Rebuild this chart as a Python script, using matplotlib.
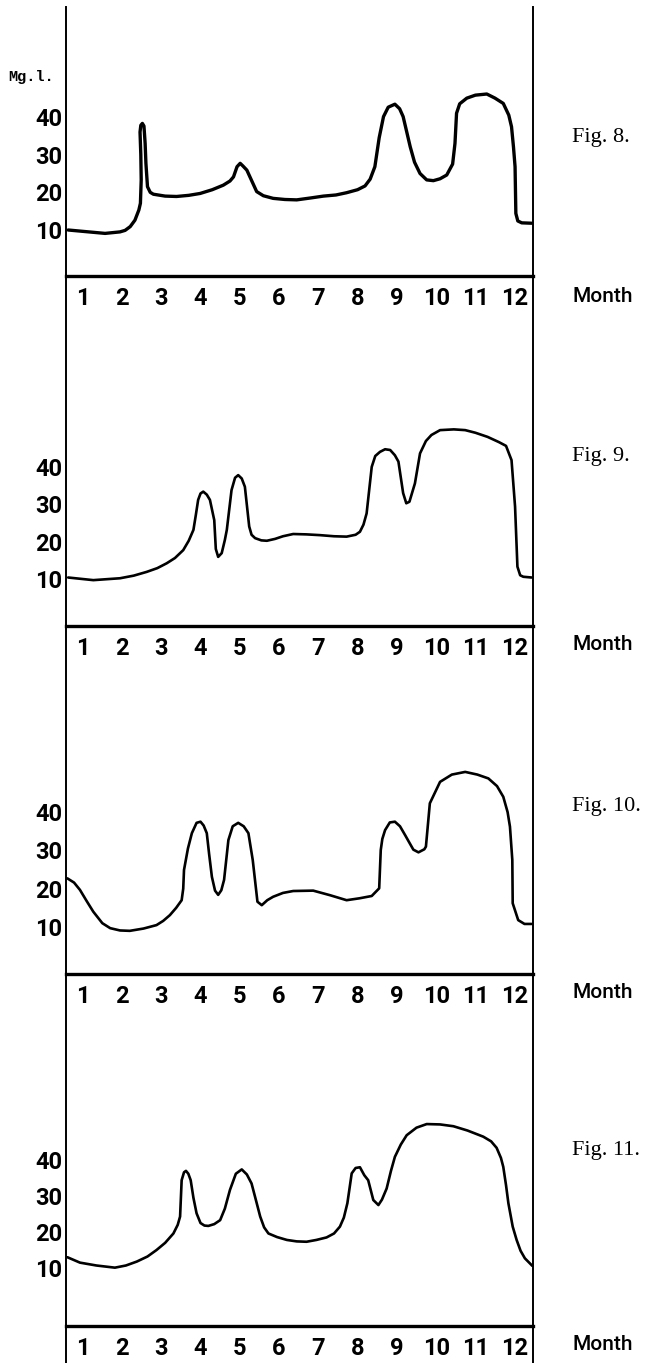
import matplotlib
matplotlib.use("Agg")
import matplotlib.pyplot as plt

# month ticks and concentration ticks (Mg.l.)
months = list(range(1, 13))
conc_ticks = [10, 20, 30, 40]

# Fig. 8
fig8_month = [0.63, 1.10, 1.57, 1.95, 2.08, 2.21, 2.33, 2.43, 2.47, 2.49, 2.48, 2.46, 2.48, 2.52, 2.56, 2.59,
              2.61, 2.65, 2.72, 2.80, 3.10, 3.39, 3.70, 3.99, 4.30, 4.58, 4.75, 4.84, 4.93, 5.01, 5.08, 5.18,
              5.43, 5.60, 5.85, 6.15, 6.45, 6.80, 7.13, 7.45, 7.72, 8.00, 8.19, 8.32, 8.44, 8.55, 8.66,
              8.78, 8.95, 9.07, 9.16, 9.34, 9.45, 9.59, 9.76, 9.93, 10.10, 10.27, 10.42, 10.48, 10.52,
              10.60, 10.78, 11.00, 11.29, 11.50, 11.71, 11.85, 11.92, 11.97, 12.01, 12.03, 12.08, 12.18,
              12.43]
fig8_mgl = [10.0, 9.55, 9.1, 9.5, 9.9, 10.9, 12.6, 15.3, 17.1, 23.3, 30.0, 36.0, 37.8, 38.3, 37.6, 33.0,
            27.7, 21.5, 20.0, 19.5, 19.0, 18.9, 19.2, 19.7, 20.7, 21.9, 23.0, 24.1, 26.8, 27.7, 27.0, 25.9,
            20.2, 19.1, 18.4, 18.1, 18.0, 18.5, 19.0, 19.3, 19.9, 20.7, 21.7, 23.5, 26.8, 34.5, 40.1,
            42.6, 43.4, 42.2, 40.1, 32.1, 28.0, 25.0, 23.3, 23.1, 23.6, 24.6, 27.5, 33.0, 41.0,
            43.5, 45.0, 45.8, 46.1, 45.0, 43.6, 40.5, 37.4, 32.0, 26.8, 14.4, 12.4, 11.9,
            11.8]

# Fig. 9
fig9_month = [0.63, 1.27, 1.95, 2.30, 2.63, 2.90, 3.14, 3.35, 3.56, 3.70, 3.82, 3.88, 3.94, 4.00, 4.07, 4.16,
              4.24, 4.35, 4.39, 4.45, 4.54, 4.62, 4.67, 4.79, 4.88, 4.96, 5.05, 5.13, 5.24, 5.30, 5.39,
              5.55, 5.69, 5.90, 6.10, 6.36, 6.70, 7.04, 7.40, 7.72, 7.95, 8.06, 8.15, 8.23, 8.36, 8.45,
              8.57, 8.70, 8.83, 8.95, 9.04, 9.16, 9.24, 9.32, 9.46, 9.59, 9.74, 9.88, 10.10, 10.45, 10.74,
              11.00, 11.31, 11.60, 11.78, 11.92, 12.01, 12.07, 12.14, 12.22, 12.43]
fig9_mgl = [10.4, 9.7, 10.2, 10.9, 11.9, 12.9, 14.2, 15.6, 17.7, 20.2, 23.1, 27.0, 31.1, 32.8, 33.3, 32.5,
            31.1, 25.7, 18.0, 15.9, 16.9, 20.4, 23.1, 33.7, 37.0, 37.7, 36.8, 34.6, 24.0, 21.8, 20.9,
            20.3, 20.2, 20.7, 21.4, 22.0, 21.9, 21.7, 21.4, 21.3, 21.8, 22.6, 24.5, 27.5, 39.9, 42.8,
            43.9, 44.6, 44.4, 43.0, 41.3, 32.9, 30.2, 30.6, 35.5, 43.5, 46.8, 48.4, 49.7, 49.9, 49.7,
            49.0, 47.9, 46.5, 45.5, 41.7, 29.3, 13.3, 11.0, 10.6, 10.4]

# Fig. 10
fig10_month = [0.61, 0.78, 0.93, 1.10, 1.27, 1.50, 1.70, 1.95, 2.20, 2.55, 2.88, 3.05, 3.22, 3.38, 3.52, 3.56,
               3.58, 3.68, 3.78, 3.90, 4.00, 4.08, 4.16, 4.22, 4.29, 4.37, 4.45, 4.53, 4.60, 4.71, 4.82,
               4.96, 5.10, 5.22, 5.33, 5.45, 5.56, 5.70, 5.85, 6.10, 6.36, 6.87, 7.30, 7.72, 8.05, 8.36,
               8.55, 8.59, 8.63, 8.70, 8.82, 8.95, 9.08, 9.21, 9.32, 9.42, 9.55, 9.70, 9.74, 9.84, 10.10,
               10.40, 10.74, 11.05, 11.33, 11.55, 11.71, 11.82, 11.88, 11.94, 11.95, 12.09, 12.25, 12.43]
fig10_mgl = [22.7, 21.6, 19.7, 16.8, 14.0, 11.0, 9.7, 9.1, 9.0, 9.6, 10.5, 11.6, 13.1, 15.0, 17.0, 20.0,
             24.9, 30.5, 34.5, 37.2, 37.5, 36.5, 34.5, 29.0, 23.1, 19.5, 18.4, 19.6, 22.3, 32.7, 36.3,
             37.2, 36.3, 34.5, 27.5, 16.6, 15.7, 17.0, 17.9, 18.9, 19.4, 19.5, 18.3, 17.0, 17.5, 18.1,
             20.1, 30.1, 33.0, 35.3, 37.3, 37.5, 36.3, 34.0, 32.0, 30.2, 29.5, 30.3, 31.0, 42.3, 47.9,
             49.8, 50.5, 49.8, 48.8, 46.8, 44.0, 40.0, 36.2, 27.5, 16.2, 11.8, 10.8, 10.8]

# Fig. 11
fig11_month = [0.61, 0.93, 1.35, 1.82, 2.10, 2.38, 2.65, 2.88, 3.10, 3.31, 3.42, 3.48, 3.52, 3.58, 3.63, 3.69,
               3.75, 3.82, 3.90, 4.00, 4.10, 4.20, 4.35, 4.50, 4.62, 4.75, 4.90, 5.05, 5.18, 5.30, 5.42,
               5.52, 5.62, 5.73, 5.95, 6.20, 6.45, 6.70, 6.95, 7.21, 7.40, 7.55, 7.65, 7.74, 7.85, 7.95,
               8.06, 8.17, 8.27, 8.40, 8.53, 8.62, 8.74, 8.85, 8.95, 9.10, 9.25, 9.50, 9.76, 10.10, 10.44,
               10.80, 11.20, 11.40, 11.54, 11.65, 11.71, 11.78, 11.84, 11.95, 12.05, 12.15, 12.26, 12.45]
fig11_mgl = [13.0, 11.5, 10.7, 10.1, 10.7, 11.8, 13.2, 15.0, 17.0, 19.6, 22.0, 24.3, 34.4, 36.6, 37.0, 36.2,
             34.4, 29.5, 25.2, 22.5, 21.8, 21.7, 22.2, 23.3, 26.5, 31.7, 36.2, 37.4, 36.0, 33.5, 28.5,
             24.3, 21.3, 19.6, 18.6, 17.8, 17.4, 17.3, 17.8, 18.5, 19.6, 21.5, 24.0, 28.0, 36.3, 37.8,
             38.0, 35.8, 34.4, 28.9, 27.5, 29.0, 32.1, 37.0, 40.9, 44.3, 46.9, 49.0, 50.0, 49.9, 49.4,
             48.2, 46.5, 45.2, 43.4, 40.6, 38.1, 33.0, 28.0, 21.5, 17.8, 14.8, 12.7, 10.6]

# ==========================================================================

W, H = 648, 1363
left_px, right_px = 66, 532.5

plt.rcParams['font.family'] = ['Roboto', 'DejaVu Sans']
serif = ['Liberation Serif', 'DejaVu Serif']

fig = plt.figure(figsize=(W / 100, H / 100), dpi=100)

# x, y, top px, bottom px, ylim, caption, caption y px, Month y px, line width
panels = [
    (fig8_month, fig8_mgl, 7, 276, (-2.21, 69.2), "Fig. 8.", 137.5, 296, 2.4),
    (fig9_month, fig9_mgl, 276, 626, (-2.53, 90.8), "Fig. 9.", 457, 645, 1.9),
    (fig10_month, fig10_mgl, 626, 974, (-2.27, 88.6), "Fig. 10.", 806, 992, 1.9),
    (fig11_month, fig11_mgl, 974, 1326, (-6.11, 91.7), "Fig. 11.", 1150, 1345, 1.9),
]

for x, y, top, bottom, ylim, caption, cap_y, month_y, lw in panels:
    ax = fig.add_axes([left_px / W, 1 - bottom / H, (right_px - left_px) / W, (bottom - top) / H])
    ax.patch.set_visible(False)
    ax.plot(x, y, color='black', lw=lw, solid_joinstyle='round', solid_capstyle='round')
    ax.set_xlim(0.575, 12.454)
    ax.set_ylim(*ylim)
    ax.set_xticks(months)
    ax.set_xticklabels([str(m) for m in months], fontweight='bold')
    ax.set_yticks(conc_ticks)
    ax.set_yticklabels([str(c) for c in conc_ticks], fontweight='bold')
    ax.tick_params(axis='x', length=0, labelsize=17, pad=8)
    ax.tick_params(axis='y', length=0, labelsize=17, pad=2.5)
    ax.spines['top'].set_visible(False)
    ax.spines['bottom'].set_linewidth(2.4)
    ax.spines['left'].set_linewidth(1.4)
    ax.spines['right'].set_linewidth(1.4)
    fig.text(572 / W, 1 - cap_y / H, caption, family=serif, fontsize=16, va='center', ha='left')
    fig.text(573 / W, 1 - month_y / H, "Month", fontsize=15, fontweight='medium', va='center', ha='left')

# vertical lines run on below the last axis
strip = fig.add_axes([left_px / W, 0, (right_px - left_px) / W, (H - 1326) / H])
strip.patch.set_visible(False)
strip.set_xticks([])
strip.set_yticks([])
strip.spines['top'].set_visible(False)
strip.spines['bottom'].set_visible(False)
strip.spines['left'].set_linewidth(1.4)
strip.spines['right'].set_linewidth(1.4)

fig.text(8 / W, 1 - 77 / H, "Mg.l.", family=['Liberation Mono', 'DejaVu Sans Mono'], fontsize=11,
         fontweight='bold', va='center', ha='left')

plt.savefig("out.png", dpi=100)
